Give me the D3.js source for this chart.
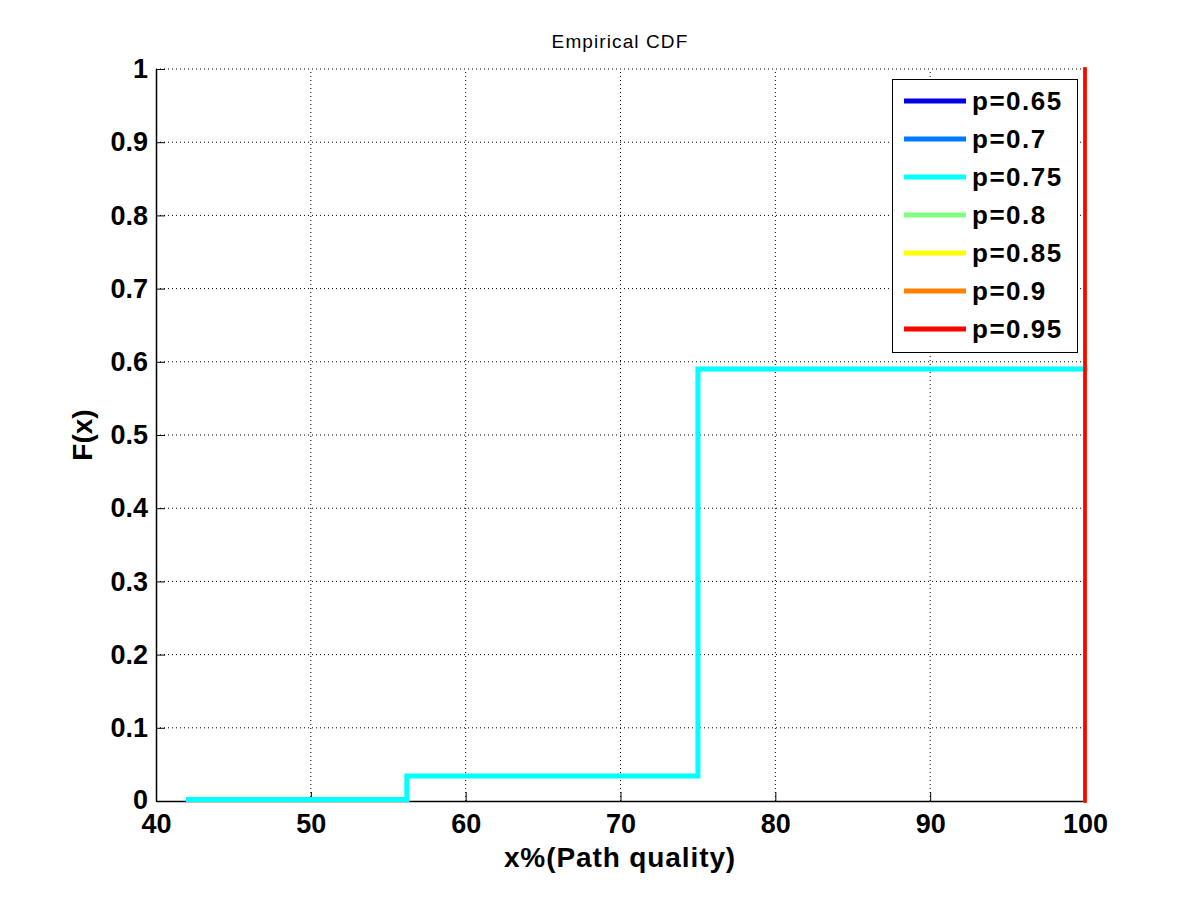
<!DOCTYPE html>
<html><head><meta charset="utf-8">
<script src="https://cdn.jsdelivr.net/npm/d3@7"></script>
<style>body{margin:0;background:#fff}svg{display:block}</style>
</head><body>
<script>
const seriesNames = ["p=0.65","p=0.7","p=0.75","p=0.8","p=0.85","p=0.9","p=0.95"];
const seriesColors = ["#0000e6","#0078ff","#00ffff","#80ff80","#ffff00","#ff8000","#ff0000"];
// step-function points [x, F(x)] per series
const cdf065 = [[100,0],[100,1]];
const cdf07  = [[100,0],[100,1]];
const cdf075 = [[42.1,0.002],[56.2,0.002],[56.2,0.034],[75.0,0.034],[75.0,0.59],[100,0.59]];
const cdf08  = [[100,0],[100,1]];
const cdf085 = [[100,0],[100,1]];
const cdf09  = [[100,0],[100,1]];
const cdf095 = [[100,0],[100,1]];
const seriesData = [cdf065,cdf07,cdf075,cdf08,cdf085,cdf09,cdf095];
const xTicks = [40,50,60,70,80,90,100];
const yTicks = [0,0.1,0.2,0.3,0.4,0.5,0.6,0.7,0.8,0.9,1];

const W=1200,H=900;
const L=156,R=1085,T=69,B=801;
const svg=d3.select("body").append("svg").attr("width",W).attr("height",H);
const x=d3.scaleLinear().domain([40,100]).range([L,R]);
const y=d3.scaleLinear().domain([0,1]).range([B,T]);
const font="Arial, 'Liberation Sans', sans-serif";

// grid
const g=svg.append("g");
xTicks.slice(1,-1).forEach(t=>g.append("line").attr("x1",x(t)).attr("x2",x(t)).attr("y1",B).attr("y2",T)
  .attr("stroke","#000").attr("stroke-width",1).attr("stroke-dasharray","1,3"));
yTicks.slice(1).forEach(t=>g.append("line").attr("x1",L).attr("x2",R).attr("y1",y(t)).attr("y2",y(t))
  .attr("stroke","#000").attr("stroke-width",1).attr("stroke-dasharray","1,3"));

// axes
const xa=svg.append("g").attr("transform",`translate(0,${B})`)
  .call(d3.axisBottom(x).tickValues(xTicks).tickSizeInner(-9).tickSizeOuter(0).tickPadding(14).tickFormat(d3.format("d")));
const ya=svg.append("g").attr("transform",`translate(${L},0)`)
  .call(d3.axisLeft(y).tickValues(yTicks).tickSizeInner(-9).tickSizeOuter(0).tickPadding(8).tickFormat(d=>d===0?"0":d===1?"1":d3.format(".1f")(d)));
[xa,ya].forEach(a=>{a.selectAll("path").attr("stroke","#000").attr("stroke-width",1.5);
  a.selectAll("line").attr("stroke","#000");
  a.selectAll("text").attr("font-family",font).attr("font-size",27).attr("font-weight","bold").attr("fill","#000");});
xa.selectAll("text").attr("dy","0.71em").attr("y",13);
ya.selectAll("text").filter(d=>d===0).attr("dy","0.28em");

// series
const line=d3.line().x(d=>x(d[0])).y(d=>y(d[1]));
seriesData.forEach((d,i)=>{
  const hidden = d.length===2;
  svg.append("path").datum(d).attr("d",line).attr("fill","none")
    .attr("stroke",seriesColors[i]).attr("stroke-width",hidden?3.5:5).attr("stroke-linejoin","miter").attr("stroke-linecap","square");
});

// titles
svg.append("text").attr("x",620).attr("y",48).attr("text-anchor","middle")
  .attr("font-family",font).attr("font-size",19).attr("letter-spacing",1.1).text("Empirical CDF");
svg.append("text").attr("x",620).attr("y",867).attr("text-anchor","middle")
  .attr("font-family",font).attr("font-size",28).attr("font-weight","bold").attr("letter-spacing",0.9).text("x%(Path quality)");
svg.append("text").attr("transform","translate(92,435) rotate(-90)").attr("text-anchor","middle")
  .attr("font-family",font).attr("font-size",28).attr("font-weight","bold").text("F(x)");

// legend
const lg=svg.append("g");
lg.append("rect").attr("x",892.5).attr("y",79.5).attr("width",185).attr("height",273)
  .attr("fill","#fff").attr("stroke","#000").attr("stroke-width",1);
seriesNames.forEach((n,i)=>{
  const yy=101+i*38;
  lg.append("line").attr("x1",904).attr("x2",966).attr("y1",yy).attr("y2",yy)
    .attr("stroke",seriesColors[i]).attr("stroke-width",5);
  lg.append("text").attr("x",972).attr("y",yy).attr("dy","0.36em")
    .attr("font-family",font).attr("font-size",26).attr("font-weight","bold").attr("letter-spacing",1.5).text(n);
});
</script>
</body></html>
